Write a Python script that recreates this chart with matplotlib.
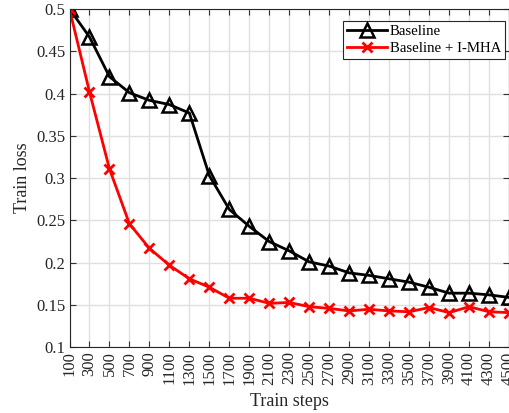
import numpy as np
import matplotlib.pyplot as plt
from matplotlib.ticker import FuncFormatter

plt.rcParams['font.family'] = ['Liberation Serif', 'DejaVu Serif']

# data
steps = list(range(100, 4501, 200))
baseline = [0.500, 0.467, 0.420, 0.401, 0.392, 0.387, 0.377, 0.303, 0.263, 0.243,
            0.225, 0.214, 0.201, 0.196, 0.188, 0.185, 0.181, 0.177, 0.171, 0.164,
            0.164, 0.162, 0.159]
imha = [0.500, 0.402, 0.311, 0.246, 0.217, 0.197, 0.181, 0.171, 0.158, 0.158,
        0.152, 0.153, 0.148, 0.146, 0.143, 0.145, 0.143, 0.142, 0.147, 0.141,
        0.148, 0.142, 0.141]

fig = plt.figure(figsize=(5.09, 4.13), dpi=100)
ax = fig.add_axes([69.5 / 509, 65.7 / 413, (509 - 69.5) / 509, (347.3 - 9) / 413])

ax.plot(steps, baseline, color='black', lw=2, marker='^', markersize=10,
        markerfacecolor='none', markeredgewidth=1.8, label='Baseline')
ax.plot(steps, imha, color='red', lw=2, marker='x', markersize=7,
        markeredgewidth=2, label='Baseline + I-MHA')

ax.set_xlim(100, 4500)
ax.set_ylim(0.1, 0.5)
ax.set_xticks(steps)
ax.set_xticklabels([str(s) for s in steps], rotation=90)
ax.set_yticks(np.arange(0.1, 0.501, 0.05))
ax.yaxis.set_major_formatter(FuncFormatter(lambda v, p: f"{v:.2f}".rstrip('0')))
ax.tick_params(direction='in', top=True, right=True, labelsize=12, length=4,
               pad=3, color='#333333', labelcolor='#262626')
ax.grid(True, color='#e0e0e0', lw=1)
for s in ax.spines.values():
    s.set_color('#262626')

ax.set_xlabel('Train steps', fontsize=13, color='#262626', labelpad=6)
ax.set_ylabel('Train loss', fontsize=13, color='#262626', labelpad=4)

leg = ax.legend(loc='upper right', fontsize=10.7, fancybox=False, framealpha=1,
                edgecolor='#262626', borderpad=0.25, handlelength=2.7,
                handletextpad=0.2, labelspacing=0.25, borderaxespad=0,
                bbox_to_anchor=(0.991, 0.964))
leg.get_frame().set_linewidth(0.8)

fig.savefig('out.png', dpi=100)
